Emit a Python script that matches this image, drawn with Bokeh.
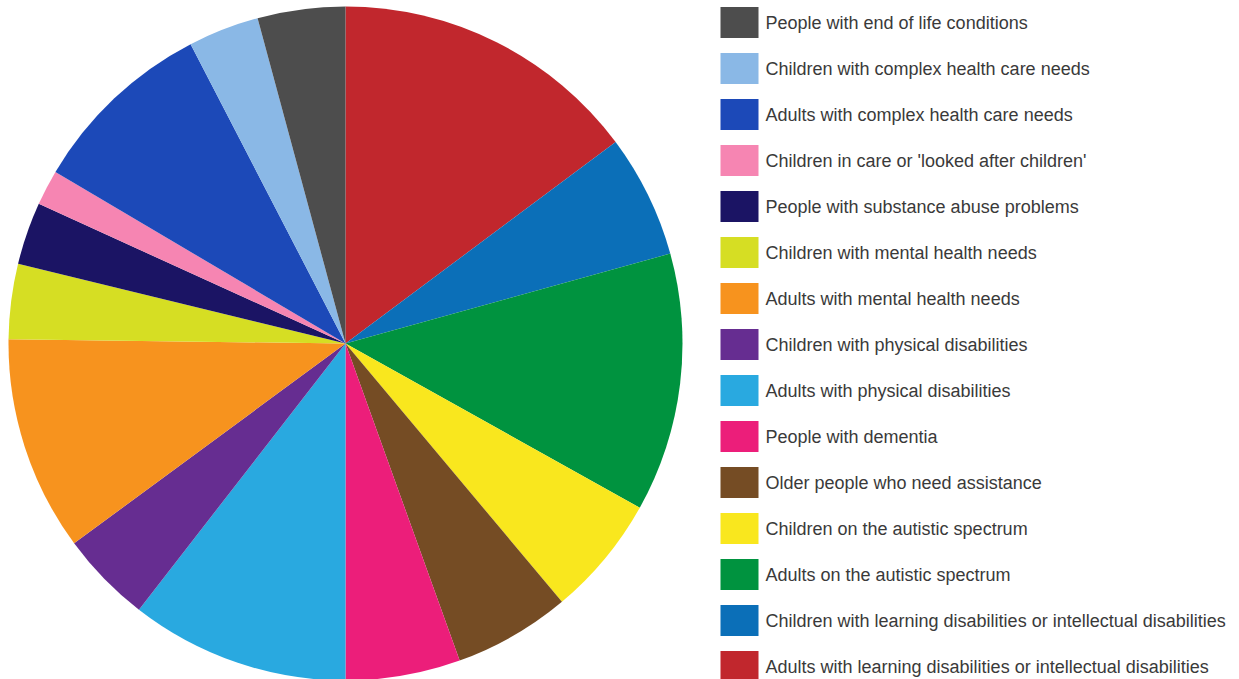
import numpy as np
from bokeh.plotting import figure
from bokeh.models import ColumnDataSource, Range1d
from bokeh.core.properties import value
from bokeh.embed import file_html
from bokeh.resources import INLINE

# Data in clockwise order starting from 12 o'clock
categories = [
    "Adults with learning disabilities or intellectual disabilities",
    "Children with learning disabilities or intellectual disabilities",
    "Adults on the autistic spectrum",
    "Children on the autistic spectrum",
    "Older people who need assistance",
    "People with dementia",
    "Adults with physical disabilities",
    "Children with physical disabilities",
    "Adults with mental health needs",
    "Children with mental health needs",
    "People with substance abuse problems",
    "Children in care or 'looked after children'",
    "Adults with complex health care needs",
    "Children with complex health care needs",
    "People with end of life conditions",
]
shares = [14.8, 5.9, 12.4, 5.8, 5.6, 5.5, 10.5, 4.4, 10.3, 3.6, 3.0, 1.7, 8.9, 3.4, 4.2]
colors = [
    "#C1272D", "#0B6FB8", "#00933F", "#F9E71E", "#754C24",
    "#EC1E7A", "#29A9E0", "#662D91", "#F7931E", "#D6DE23",
    "#1B1464", "#F685B2", "#1C49B8", "#8AB8E6", "#4D4D4D",
]

W, H = 1239, 679
p = figure(width=W, height=H, output_backend="svg", toolbar_location=None,
           x_range=Range1d(0, W), y_range=Range1d(0, H), min_border=0)
p.axis.visible = False
p.grid.visible = False
p.outline_line_color = None
p.background_fill_color = "white"
p.border_fill_color = "white"

vals = np.array(shares, dtype=float)
frac = vals / vals.sum() * 2 * np.pi
cum = np.concatenate([[0], np.cumsum(frac)])
start = np.pi / 2 - cum[1:]
end = np.pi / 2 - cum[:-1]

cx, cy, R = 345, H - 343, 337
pie = ColumnDataSource(dict(start=start, end=end, color=colors, cat=categories))
p.wedge(x=cx, y=cy, radius=R, start_angle="start", end_angle="end",
        fill_color="color", line_color=None, source=pie)

# Legend (top row = last slice)
n = len(categories)
order = list(range(n))[::-1]
row = np.arange(n)
ly = H - 22 - 46 * row
leg = ColumnDataSource(dict(
    y=ly,
    color=[colors[i] for i in order],
    label=[categories[i] for i in order],
))
p.rect(x=739, y="y", width=38, height=31, fill_color="color", line_color=None, source=leg)
p.text(x=765, y="y", text="label", source=leg, text_font=value("Liberation Sans"),
       text_font_size="18px", text_color="#3a3a3a", text_baseline="middle",
       text_align="left")

open("out.html", "w").write(file_html(p, INLINE))
